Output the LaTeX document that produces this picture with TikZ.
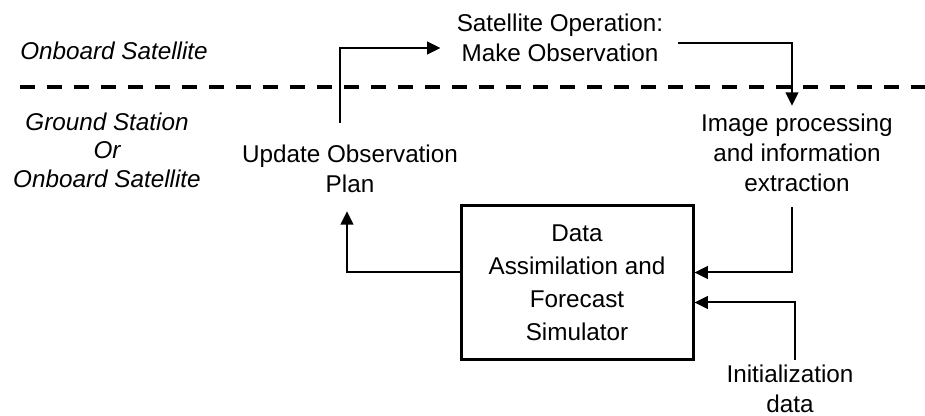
\documentclass[tikz,border=0pt]{standalone}
\usepackage{fontspec}
\setmainfont{Liberation Sans}
\usetikzlibrary{arrows.meta,calc}

\begin{document}
\begin{tikzpicture}[
	x=0.75pt, y=-0.75pt,
	testo/.style={inner sep=0pt, align=center, font=\fontsize{18.2}{22.5}\selectfont},
	zona/.style={testo, font=\fontsize{18.2}{21.4}\selectfont\itshape},
	blocco/.style={draw=black, line width=2.25pt, minimum width=174pt, minimum height=116pt,
		inner sep=0pt, align=center, font=\fontsize{18.2}{24.75}\selectfont},
	flusso/.style={line width=1.5pt, black, -{Triangle[length=10pt,width=9.5pt]}},
	confine/.style={line width=3pt, black, dash pattern=on 11.25pt off 9pt},
	]
	\useasboundingbox (0,0) rectangle (925,416);

	%% ── zone ─────────────────────────────────────────────
	\node[zona, anchor=base west] (bordo) at (20,60) {Onboard Satellite};
	\node[zona] (terra) at (107,150) {Ground Station\\Or\\Onboard Satellite};
	\draw[confine] (20,87) -- (925,87);

	%% ── passi ────────────────────────────────────────────
	\node[testo] (oss) at (560,38) {Satellite Operation:\\Make Observation};
	\node[testo] (piano) at (350,169) {Update Observation\\Plan};
	\node[testo] (elab) at (797,153) {Image processing\\and information\\extraction};
	\node[testo] (init) at (790,389) {Initialization\\data};
	\node[blocco] (simu) at (577,282.5) {Data\\Assimilation and\\Forecast\\Simulator};

	%% ── frecce ───────────────────────────────────────────
	\draw[flusso] ($(piano.north)+(-10,-22)$) |- ($(oss.west)+(-16,10)$);
	\draw[flusso] ($(oss.east)+(15,5)$) -| ($(elab.north)+(-5,-8)$);
	\draw[flusso] ($(elab.south)+(-5,15)$) |- ($(simu.east)+(0,-10)$);
	\draw[flusso] ($(init.north)+(5,-5)$) |- ($(simu.east)+(0,20)$);
	\draw[flusso] ($(simu.west)+(0,-10)$) -| ($(piano.south)+(-3,18)$);

\end{tikzpicture}
\end{document}
